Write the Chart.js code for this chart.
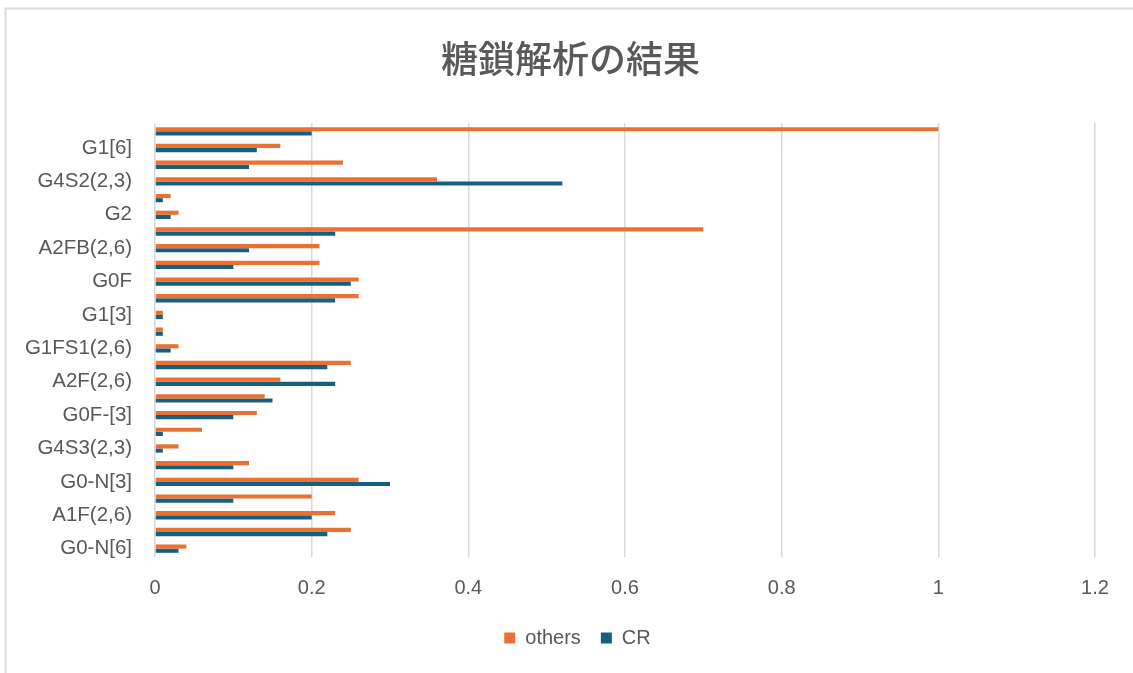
<!DOCTYPE html>
<html>
<head>
<meta charset="utf-8">
<script src="https://cdn.jsdelivr.net/npm/chart.js@4/dist/chart.umd.min.js"></script>
<style>
  html, body { margin: 0; padding: 0; background: #ffffff; }
  #wrap { width: 1133px; height: 673px; position: relative; }
</style>
</head>
<body>
<div id="wrap"><canvas id="c" width="1133" height="673"></canvas></div>
<script>
// Glycan categories, top to bottom (only every other one carries a printed label)
const categories = [
  '', 'G1[6]', '', 'G4S2(2,3)', '', 'G2', '', 'A2FB(2,6)', '', 'G0F',
  '', 'G1[3]', '', 'G1FS1(2,6)', '', 'A2F(2,6)', '', 'G0F-[3]', '', 'G4S3(2,3)',
  '', 'G0-N[3]', '', 'A1F(2,6)', '', 'G0-N[6]'
];

// Relative abundance per category, same order as above
const othersValues = [
  1.00, 0.16, 0.24, 0.36, 0.02, 0.03, 0.70, 0.21, 0.21, 0.26,
  0.26, 0.01, 0.01, 0.03, 0.25, 0.16, 0.14, 0.13, 0.06, 0.03,
  0.12, 0.26, 0.20, 0.23, 0.25, 0.04
];
const crValues = [
  0.20, 0.13, 0.12, 0.52, 0.01, 0.02, 0.23, 0.12, 0.10, 0.25,
  0.23, 0.01, 0.01, 0.02, 0.22, 0.23, 0.15, 0.10, 0.01, 0.01,
  0.10, 0.30, 0.10, 0.20, 0.22, 0.03
];

// Value axis ticks
const xTicks = [0, 0.2, 0.4, 0.6, 0.8, 1, 1.2];

const seriesNames = ['others', 'CR'];
const titleText = '糖鎖解析の結果';

const textGray = '#595959';
const gridGray = '#d9d9d9';
const font = 'Liberation Sans, Arial, sans-serif';

// Light frame around the whole chart
const framePlugin = {
  id: 'frame',
  beforeDraw(chart) {
    const ctx = chart.ctx;
    ctx.save();
    ctx.strokeStyle = '#dcdcdc';
    ctx.lineWidth = 2;
    ctx.strokeRect(5.5, 8.5, chart.width + 20, chart.height + 20);
    ctx.restore();
  }
};

// Fixed legend height, and title/legend centred on the frame rather than the padded box
const placementPlugin = {
  id: 'placement',
  beforeLayout(chart) {
    const lg = chart.legend;
    if (lg && !lg._fitPatched) {
      const orig = lg.fit;
      lg.fit = function () { orig.call(this); this.height = 60; };
      lg._fitPatched = true;
    }
  },
  afterLayout(chart) {
    const shift = (box, dx) => { if (box) { box.left += dx; box.right += dx; } };
    shift(chart.titleBlock, 23);
    shift(chart.legend, 30);
  }
};

new Chart(document.getElementById('c'), {
  type: 'bar',
  data: {
    labels: categories,
    datasets: [
      { label: seriesNames[0], data: othersValues, backgroundColor: '#E97132', borderWidth: 0 },
      { label: seriesNames[1], data: crValues, backgroundColor: '#156082', borderWidth: 0 }
    ]
  },
  options: {
    indexAxis: 'y',
    responsive: false,
    animation: false,
    devicePixelRatio: 1,
    datasets: { bar: { categoryPercentage: 0.5, barPercentage: 1.0 } },
    layout: { padding: { left: 0, right: 38, top: 0, bottom: 5 } },
    plugins: {
      title: {
        display: true,
        text: titleText,
        color: textGray,
        font: { family: 'Noto Sans CJK JP', size: 37, weight: '500', lineHeight: 1.2 },
        padding: { top: 36.8, bottom: 41.8 }
      },
      legend: {
        position: 'bottom',
        labels: {
          boxWidth: 11,
          boxHeight: 11,
          padding: 20,
          color: textGray,
          font: { family: font, size: 20 }
        }
      },
      tooltip: { enabled: false }
    },
    scales: {
      x: {
        type: 'linear',
        min: 0,
        max: 1.2,
        afterBuildTicks(scale) { scale.ticks = xTicks.map(v => ({ value: v })); },
        afterFit(scale) { scale.height = 51; },
        ticks: {
          color: textGray,
          padding: 19,
          font: { family: font, size: 20 },
          callback: v => String(Number(v.toFixed(1)))
        },
        grid: { color: gridGray, lineWidth: 1.5, drawTicks: false },
        border: { display: false }
      },
      y: {
        type: 'category',
        afterFit(scale) { scale.width = 155; },
        ticks: {
          color: textGray,
          padding: 23,
          autoSkip: false,
          font: { family: font, size: 20.5 }
        },
        grid: { display: false, drawTicks: false },
        border: { display: false }
      }
    }
  },
  plugins: [framePlugin, placementPlugin]
});
</script>
</body>
</html>
